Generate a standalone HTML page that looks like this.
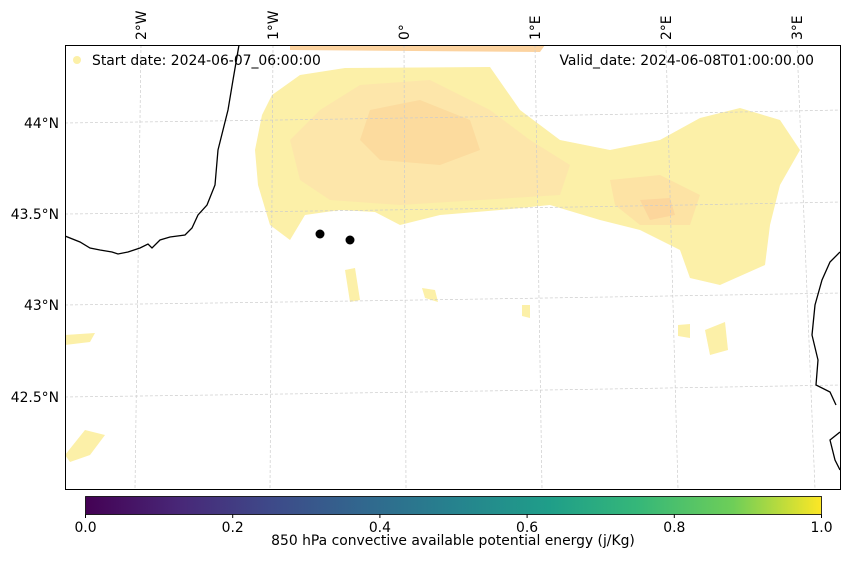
<!DOCTYPE html>
<html><head><meta charset="utf-8"><style>
body{margin:0;background:#fff;font-family:"Liberation Sans","DejaVu Sans",sans-serif;}
svg text{font-family:"DejaVu Sans","Liberation Sans",sans-serif;font-size:13.9px;fill:#000;}
</style></head><body>
<svg width="850" height="558" viewBox="0 0 850 558">
<defs>
<linearGradient id="vir" x1="0" x2="1" y1="0" y2="0">
<stop offset="0" stop-color="#440154"/><stop offset="0.13" stop-color="#482878"/>
<stop offset="0.25" stop-color="#3e4989"/><stop offset="0.38" stop-color="#31688e"/>
<stop offset="0.5" stop-color="#26828e"/><stop offset="0.63" stop-color="#1f9e89"/>
<stop offset="0.75" stop-color="#35b779"/><stop offset="0.88" stop-color="#6ece58"/>
<stop offset="1" stop-color="#fde725"/></linearGradient>
<clipPath id="mc"><rect x="65" y="45" width="775" height="444"/></clipPath>
</defs>
<g clip-path="url(#mc)">
<rect x="65" y="45" width="775" height="444" fill="#fff"/>
<g>
<path d="M290 45 L545 45 L540 52 L290 50 Z" fill="#fcd3a0"/>
<path d="M272 95 L300 75 L345 68 L490 67 L520 110 L560 140 L610 150 L660 140 L700 118 L740 108 L780 120 L800 150 L780 185 L770 225 L765 265 L720 285 L690 278 L680 250 L640 230 L600 220 L550 205 L500 210 L440 215 L400 225 L375 212 L340 210 L305 215 L290 240 L270 225 L258 185 L255 150 L262 115 Z" fill="#fcf0a8"/>
<path d="M320 110 L360 85 L430 80 L490 110 L530 140 L570 165 L560 195 L480 200 L400 205 L330 200 L300 180 L290 140 Z" fill="#fde6aa"/>
<path d="M370 110 L420 100 L470 120 L480 150 L440 165 L380 160 L360 140 Z" fill="#fcdb9e"/>
<path d="M610 180 L660 175 L700 195 L690 225 L640 225 L615 205 Z" fill="#fde3a4"/>
<path d="M640 200 L670 198 L675 215 L650 220 Z" fill="#fcd69c"/>
<path d="M65 455 L85 430 L105 435 L90 455 L70 462 Z" fill="#fcf0a8"/>
<path d="M705 330 L725 322 L728 350 L710 355 Z" fill="#fcf0a8"/>
<path d="M345 270 L355 268 L360 300 L350 302 Z" fill="#fcf0a8"/>
<path d="M65 335 L95 333 L90 342 L65 345 Z" fill="#fcf0a8"/>
<path d="M422 288 L435 290 L438 302 L425 298 Z" fill="#fcf0a8"/>
<path d="M522 305 L530 305 L530 318 L522 316 Z" fill="#fcf0a8"/>
<path d="M678 325 L690 324 L690 338 L678 336 Z" fill="#fcf0a8"/>
</g>
<g stroke="#ccc" stroke-width="0.7" stroke-dasharray="3,2" fill="none">
<line x1="141" y1="45" x2="135" y2="489"/><line x1="273" y1="45" x2="270" y2="489"/>
<line x1="404" y1="45" x2="406" y2="489"/><line x1="535" y1="45" x2="542" y2="489"/>
<line x1="666" y1="45" x2="678" y2="489"/><line x1="797" y1="45" x2="815" y2="489"/>
<path d="M65 123 Q450 118 840 110"/><path d="M65 214 Q450 210 840 202"/>
<path d="M65 305 Q450 300 840 293"/><path d="M65 397 Q450 392 840 385"/>
</g>
<g stroke="#000" stroke-width="1.3" fill="none">
<path d="M239 45 L233 80 L228 110 L218 150 L215 185 L207 205 L198 215 L192 228 L185 235 L170 237 L160 240 L152 248 L148 244 L140 248 L128 252 L118 254 L112 252 L100 250 L90 248 L80 242 L65 236"/>
<path d="M840 252 L830 262 L822 280 L815 305 L812 335 L818 360 L816 385 L830 392 L836 405"/>
<path d="M840 432 L830 440 L835 460 L840 470"/>
</g>
<circle cx="320" cy="234" r="4.5" fill="#000"/>
<circle cx="350" cy="240" r="4.5" fill="#000"/>
</g>
<rect x="65.5" y="45.5" width="775" height="444" fill="none" stroke="#000" stroke-width="1"/>
<circle cx="77" cy="60" r="4" fill="#fcf0a8"/>
<text x="92" y="65">Start date: 2024-06-07_06:00:00</text>
<text x="814" y="65" text-anchor="end">Valid_date: 2024-06-08T01:00:00.00</text>
<g id="lon"></g>
<g id="lat"></g>
<rect x="85.5" y="496.5" width="736" height="18" fill="url(#vir)" stroke="#000" stroke-width="0.8"/>
<g id="cb"></g>
<text x="453" y="545" text-anchor="middle">850 hPa convective available potential energy (j/Kg)</text>
</svg>
<script>
const lonLabels=["2°W","1°W","0°","1°E","2°E","3°E"];
const lonX=[141,273,404,535,666,797];
const latLabels=["44°N","43.5°N","43°N","42.5°N"];
const latY=[123,214,305,397];
const cbTicks=[0,0.2,0.4,0.6,0.8,1.0];
const NS="http://www.w3.org/2000/svg";
const lon=document.getElementById('lon');
lonLabels.forEach((t,i)=>{const e=document.createElementNS(NS,'text');


e.setAttribute('transform',`translate(${lonX[i]+5},40) rotate(-90)`);e.textContent=t;lon.appendChild(e);});
const lat=document.getElementById('lat');
latLabels.forEach((t,i)=>{const e=document.createElementNS(NS,'text');


e.setAttribute('x',59);e.setAttribute('y',latY[i]+5);e.setAttribute('text-anchor','end');e.textContent=t;lat.appendChild(e);});
const cb=document.getElementById('cb');
const sx=v=>85.5+v*736;
cbTicks.forEach(v=>{const l=document.createElementNS(NS,'line');


l.setAttribute('x1',sx(v));l.setAttribute('x2',sx(v));l.setAttribute('y1',514.5);l.setAttribute('y2',518);l.setAttribute('stroke','#000');cb.appendChild(l);
const e=document.createElementNS(NS,'text');


e.setAttribute('x',sx(v));e.setAttribute('y',532);e.setAttribute('text-anchor','middle');e.textContent=v.toFixed(1);cb.appendChild(e);});
</script>
</body></html>
